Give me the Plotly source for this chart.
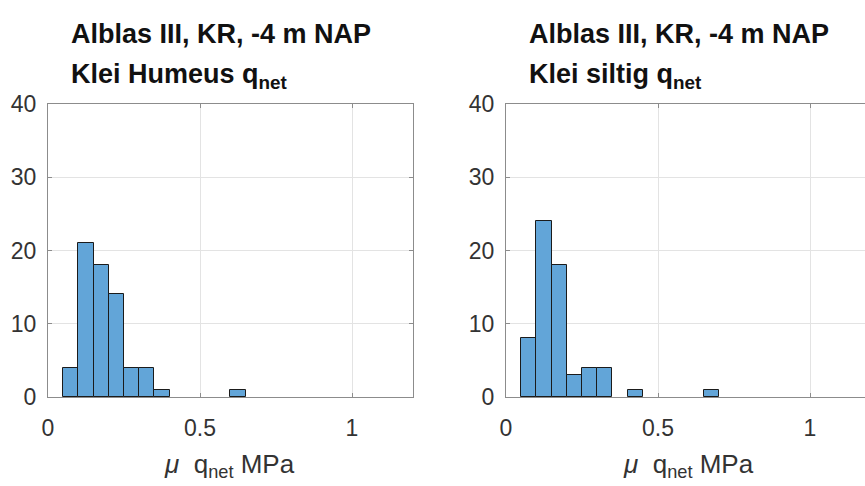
import plotly.graph_objects as go

# Histogram bins (left edges, MPa) and counts for each soil type
bin_width = 0.05
humeus_bin_left = [0.05, 0.10, 0.15, 0.20, 0.25, 0.30, 0.35, 0.60]
humeus_counts = [4, 21, 18, 14, 4, 4, 1, 1]
siltig_bin_left = [0.05, 0.10, 0.15, 0.20, 0.25, 0.30, 0.40, 0.65]
siltig_counts = [8, 24, 18, 3, 4, 4, 1, 1]

title_line1 = "Alblas III, KR, -4 m NAP"
titles_line2 = ["Klei Humeus q<sub>net</sub>", "Klei siltig q<sub>net</sub>"]
xlabel = "<i>μ</i>  q<sub>net</sub> MPa"
xticks = [0, 0.5, 1]
xtick_text = ["0", "0.5", "1"]
yticks = [0, 10, 20, 30, 40]

W, H = 865, 486
FONT = "Liberation Sans, Arial, Helvetica, sans-serif"
BAR_FILL = "#62a5d8"
BAR_EDGE = "#1b1b1b"
AXIS_COL = "#8c8c8c"
GRID_COL = "#e3e3e3"
TEXT_COL = "#333333"

# pixel geometry of the two axes boxes
left_px = [48, 506]
right_px = [413, 865]
top_px, bottom_px = 104, 397
px_per_unit = 304.0

fig = go.Figure()

for i, (lefts, counts) in enumerate([(humeus_bin_left, humeus_counts),
                                     (siltig_bin_left, siltig_counts)]):
    centers = [b + bin_width / 2 for b in lefts]
    fig.add_trace(go.Bar(
        x=centers, y=counts, width=[bin_width] * len(counts),
        marker=dict(color=BAR_FILL, line=dict(color=BAR_EDGE, width=1)),
        xaxis="x" if i == 0 else "x2", yaxis="y" if i == 0 else "y2",
        showlegend=False,
    ))

ydom = [1 - bottom_px / H, 1 - top_px / H]
axis_common = dict(
    showline=True, linecolor=AXIS_COL, linewidth=1,
    showgrid=True, gridcolor=GRID_COL, gridwidth=1,
    ticks="inside", ticklen=4, tickcolor=AXIS_COL,
    tickfont=dict(family=FONT, size=23, color=TEXT_COL),
    zeroline=False, automargin=False, fixedrange=True,
)

layout = dict(
    width=W, height=H, autosize=False,
    margin=dict(l=0, r=0, t=0, b=0),
    paper_bgcolor="white", plot_bgcolor="white",
    bargap=0, showlegend=False,
    annotations=[],
)

for i in range(2):
    sfx = "" if i == 0 else "2"
    xr = (right_px[i] - left_px[i]) / px_per_unit
    layout["xaxis" + sfx] = dict(
        axis_common,
        domain=[left_px[i] / W, min(right_px[i] / W, 1.0)],
        range=[0, xr], tickvals=xticks, ticktext=xtick_text,
        anchor="y" + sfx, mirror="ticks", ticklabelstandoff=10,
    )
    layout["yaxis" + sfx] = dict(
        axis_common,
        domain=ydom, range=[0, 40], tickvals=yticks,
        anchor="x" + sfx, mirror="ticks" if i == 0 else False,
        ticklabelstandoff=6,
    )
    tx = (left_px[i] + 21) / W
    layout["annotations"] += [
        dict(text="<b>" + title_line1 + "</b>", x=tx, y=1 - 34 / H,
             xref="paper", yref="paper", xanchor="left", yanchor="middle",
             showarrow=False, font=dict(family=FONT, size=27, color="#111111")),
        dict(text="<b>" + titles_line2[i] + "</b>", x=tx, y=1 - 76 / H,
             xref="paper", yref="paper", xanchor="left", yanchor="middle",
             showarrow=False, font=dict(family=FONT, size=27, color="#111111")),
        dict(text=xlabel, x=(left_px[i] + 182) / W, y=1 - 465 / H,
             xref="paper", yref="paper", xanchor="center", yanchor="middle",
             showarrow=False, font=dict(family=FONT, size=26, color=TEXT_COL)),
    ]

fig.update_layout(**layout)
fig.write_html("out.html")
